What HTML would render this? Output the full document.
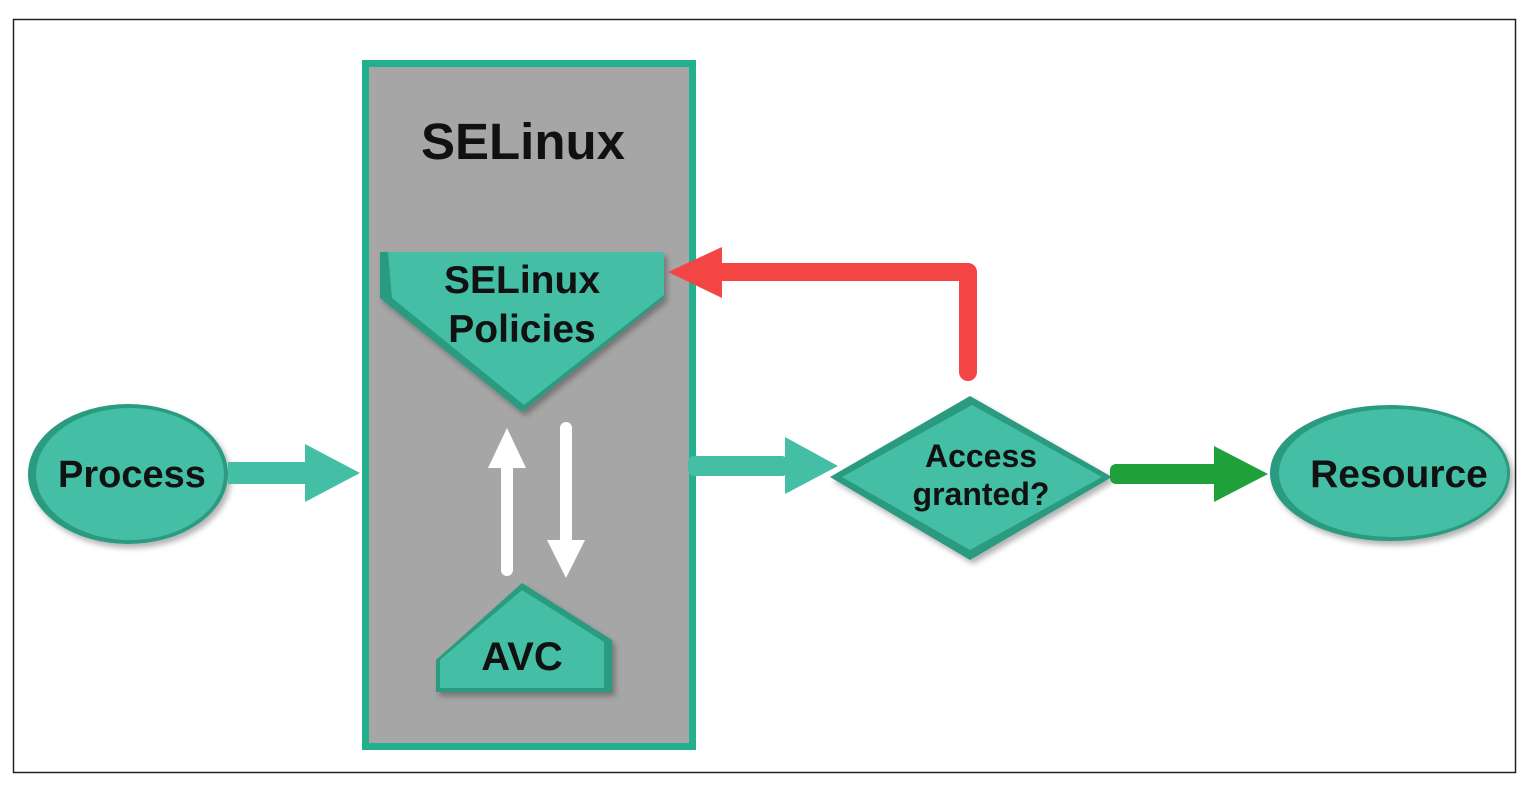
<!DOCTYPE html>
<html><head><meta charset="utf-8"><style>body{margin:0;background:#fff}svg{display:block}text{font-family:"Liberation Sans",Arial,sans-serif;font-weight:bold;fill:#111}</style></head><body>
<svg width="1532" height="788" viewBox="0 0 1532 788">
<defs><filter id="s" x="-20%" y="-20%" width="140%" height="140%"><feDropShadow dx="3" dy="4" stdDeviation="3" flood-opacity="0.3"/></filter></defs>
<rect x="0" y="0" width="1532" height="788" fill="#fff"/>
<rect x="13.5" y="19.5" width="1502" height="753" fill="#fff" stroke="#222" stroke-width="1.5"/>
<rect x="365.5" y="63.5" width="327" height="683" fill="#a6a6a6" stroke="#23b08f" stroke-width="7"/>
<text x="523" y="159" font-size="51" text-anchor="middle">SELinux</text>
<!-- policies -->
<polygon points="380,252 664,252 664,298 522,412 380,298" fill="#2a9a80" filter="url(#s)"/>
<polygon points="388,252 664,252 664,295 524,405 392,298" fill="#44bfa5"/>
<text x="522" y="293" font-size="39" text-anchor="middle">SELinux</text>
<text x="522" y="342" font-size="39" text-anchor="middle">Policies</text>
<!-- AVC -->
<polygon points="522,583 612,640 612,692 436,692 436,660" fill="#2a9a80" filter="url(#s)"/>
<polygon points="522,590 604,642 604,688 440,688 440,660" fill="#44bfa5"/>
<text x="522" y="670" font-size="40" text-anchor="middle">AVC</text>
<!-- white arrows -->
<line x1="507" y1="570" x2="507" y2="460" stroke="#fff" stroke-width="12" stroke-linecap="round"/>
<polygon points="488,468 526,468 507,428" fill="#fff"/>
<line x1="566" y1="428" x2="566" y2="545" stroke="#fff" stroke-width="12" stroke-linecap="round"/>
<polygon points="547,540 585,540 566,578" fill="#fff"/>
<!-- process -->
<ellipse cx="128" cy="474" rx="100" ry="70" fill="#2a9a80" filter="url(#s)"/>
<ellipse cx="130" cy="474" rx="94" ry="66" fill="#44bfa5"/>
<text x="132" y="487" font-size="38" text-anchor="middle">Process</text>
<!-- resource -->
<ellipse cx="1390" cy="473" rx="120" ry="68" fill="#2a9a80" filter="url(#s)"/>
<ellipse cx="1393" cy="473" rx="114" ry="64" fill="#44bfa5"/>
<text x="1399" y="487" font-size="39" text-anchor="middle">Resource</text>
<!-- diamond -->
<polygon points="970,396 1112,477 970,560 830,477" fill="#2a9a80" filter="url(#s)"/>
<polygon points="972,405 1102,477 970,550 842,477" fill="#44bfa5"/>
<text x="981" y="467" font-size="32" text-anchor="middle">Access</text>
<text x="981" y="505" font-size="32" text-anchor="middle">granted?</text>
<!-- process -> box -->
<rect x="228" y="462" width="80" height="22" fill="#44bfa5"/>
<polygon points="305,444 360,473 305,502" fill="#44bfa5"/>
<!-- box -> diamond -->
<rect x="688" y="456" width="100" height="20" rx="6" fill="#44bfa5"/>
<polygon points="785,437 838,466 785,494" fill="#44bfa5"/>
<!-- green -->
<rect x="1110" y="464" width="110" height="20" rx="6" fill="#1fa03a"/>
<polygon points="1214,446 1268,474 1214,502" fill="#1fa03a"/>
<!-- red -->
<path d="M968,372 L968,272 L715,272" fill="none" stroke="#f44545" stroke-width="18" stroke-linecap="round" stroke-linejoin="round"/>
<polygon points="722,247 668,272 722,298" fill="#f44545"/>
</svg>
</body></html>
